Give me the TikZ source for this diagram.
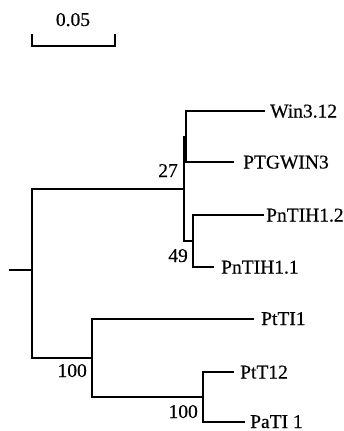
\documentclass[tikz,border=0pt]{standalone}
\usepackage{fontspec}
\setmainfont{Liberation Serif}
\newfontfamily\labfont{Liberation Serif}[FakeBold=0.4]
\begin{document}
\begin{tikzpicture}[x=1pt,y=-1pt,
  branch/.style={line width=1.3pt, line cap=rect},
  leaf/.style={anchor=base west, inner sep=0pt, font=\labfont\fontsize{19.5}{22}\selectfont},
  boot/.style={anchor=base east, inner sep=0pt, font=\labfont\fontsize{19.5}{22}\selectfont}]
\useasboundingbox (0,0) rectangle (344,431);
% scale bar
\coordinate (sbL) at (32,46);
\coordinate (sbR) at (115,46);
\coordinate (sbLt) at (32,34);
\coordinate (sbRt) at (115,34);
\draw[branch, line cap=butt] (sbLt) -- (sbL) -- (sbR) -- (sbRt);
\node[anchor=base, inner sep=0pt, font=\labfont\fontsize{19.5}{22}\selectfont] (sblab) at (73,26) {0.05};
% internal nodes
\coordinate (r0) at (10,270);
\coordinate (root) at (32,270);
\coordinate (n27) at (184,189);
\coordinate (nW) at (186,137);
\coordinate (n49) at (193,241);
\coordinate (nB) at (92,358);
\coordinate (nC) at (203,397);
% leaf ends
\coordinate (eWin) at (264,111);
\coordinate (ePTG) at (233,162);
\coordinate (ePn2) at (263,215);
\coordinate (ePn1) at (213,267);
\coordinate (ePt1) at (253,319);
\coordinate (ePt2) at (233,372);
\coordinate (ePa) at (244,422);
% branches
\draw[branch] (r0) -- (root);
\draw[branch] (root) |- (n27);
\draw[branch] (root) |- (nB);
\draw[branch] (n27) |- (nW);
\draw[branch] (n27) |- (n49);
\draw[branch] (nW) |- (eWin);
\draw[branch] (nW) |- (ePTG);
\draw[branch] (n49) |- (ePn2);
\draw[branch] (n49) |- (ePn1);
\draw[branch] (nB) |- (ePt1);
\draw[branch] (nB) |- (nC);
\draw[branch] (nC) |- (ePt2);
\draw[branch] (nC) |- (ePa);
% leaf labels
\node[leaf] (lWin) at (270,117.5) {Win3.12};
\node[leaf] (lPTG) at (243,168.5) {PTGWIN3};
\node[leaf] (lPn2) at (266,221.5) {PnTIH1.2};
\node[leaf] (lPn1) at (221,273.5) {PnTIH1.1};
\node[leaf] (lPt1) at (261,325) {PtTI1};
\node[leaf] (lPt2) at (240,378.5) {PtT12};
\node[leaf] (lPa) at (250,428) {PaTI 1};
% bootstrap values
\node[boot] (b27) at (178,177) {27};
\node[boot] (b49) at (188,262) {49};
\node[boot] (b100a) at (87,377) {100};
\node[boot] (b100b) at (198,418) {100};
\end{tikzpicture}
\end{document}
